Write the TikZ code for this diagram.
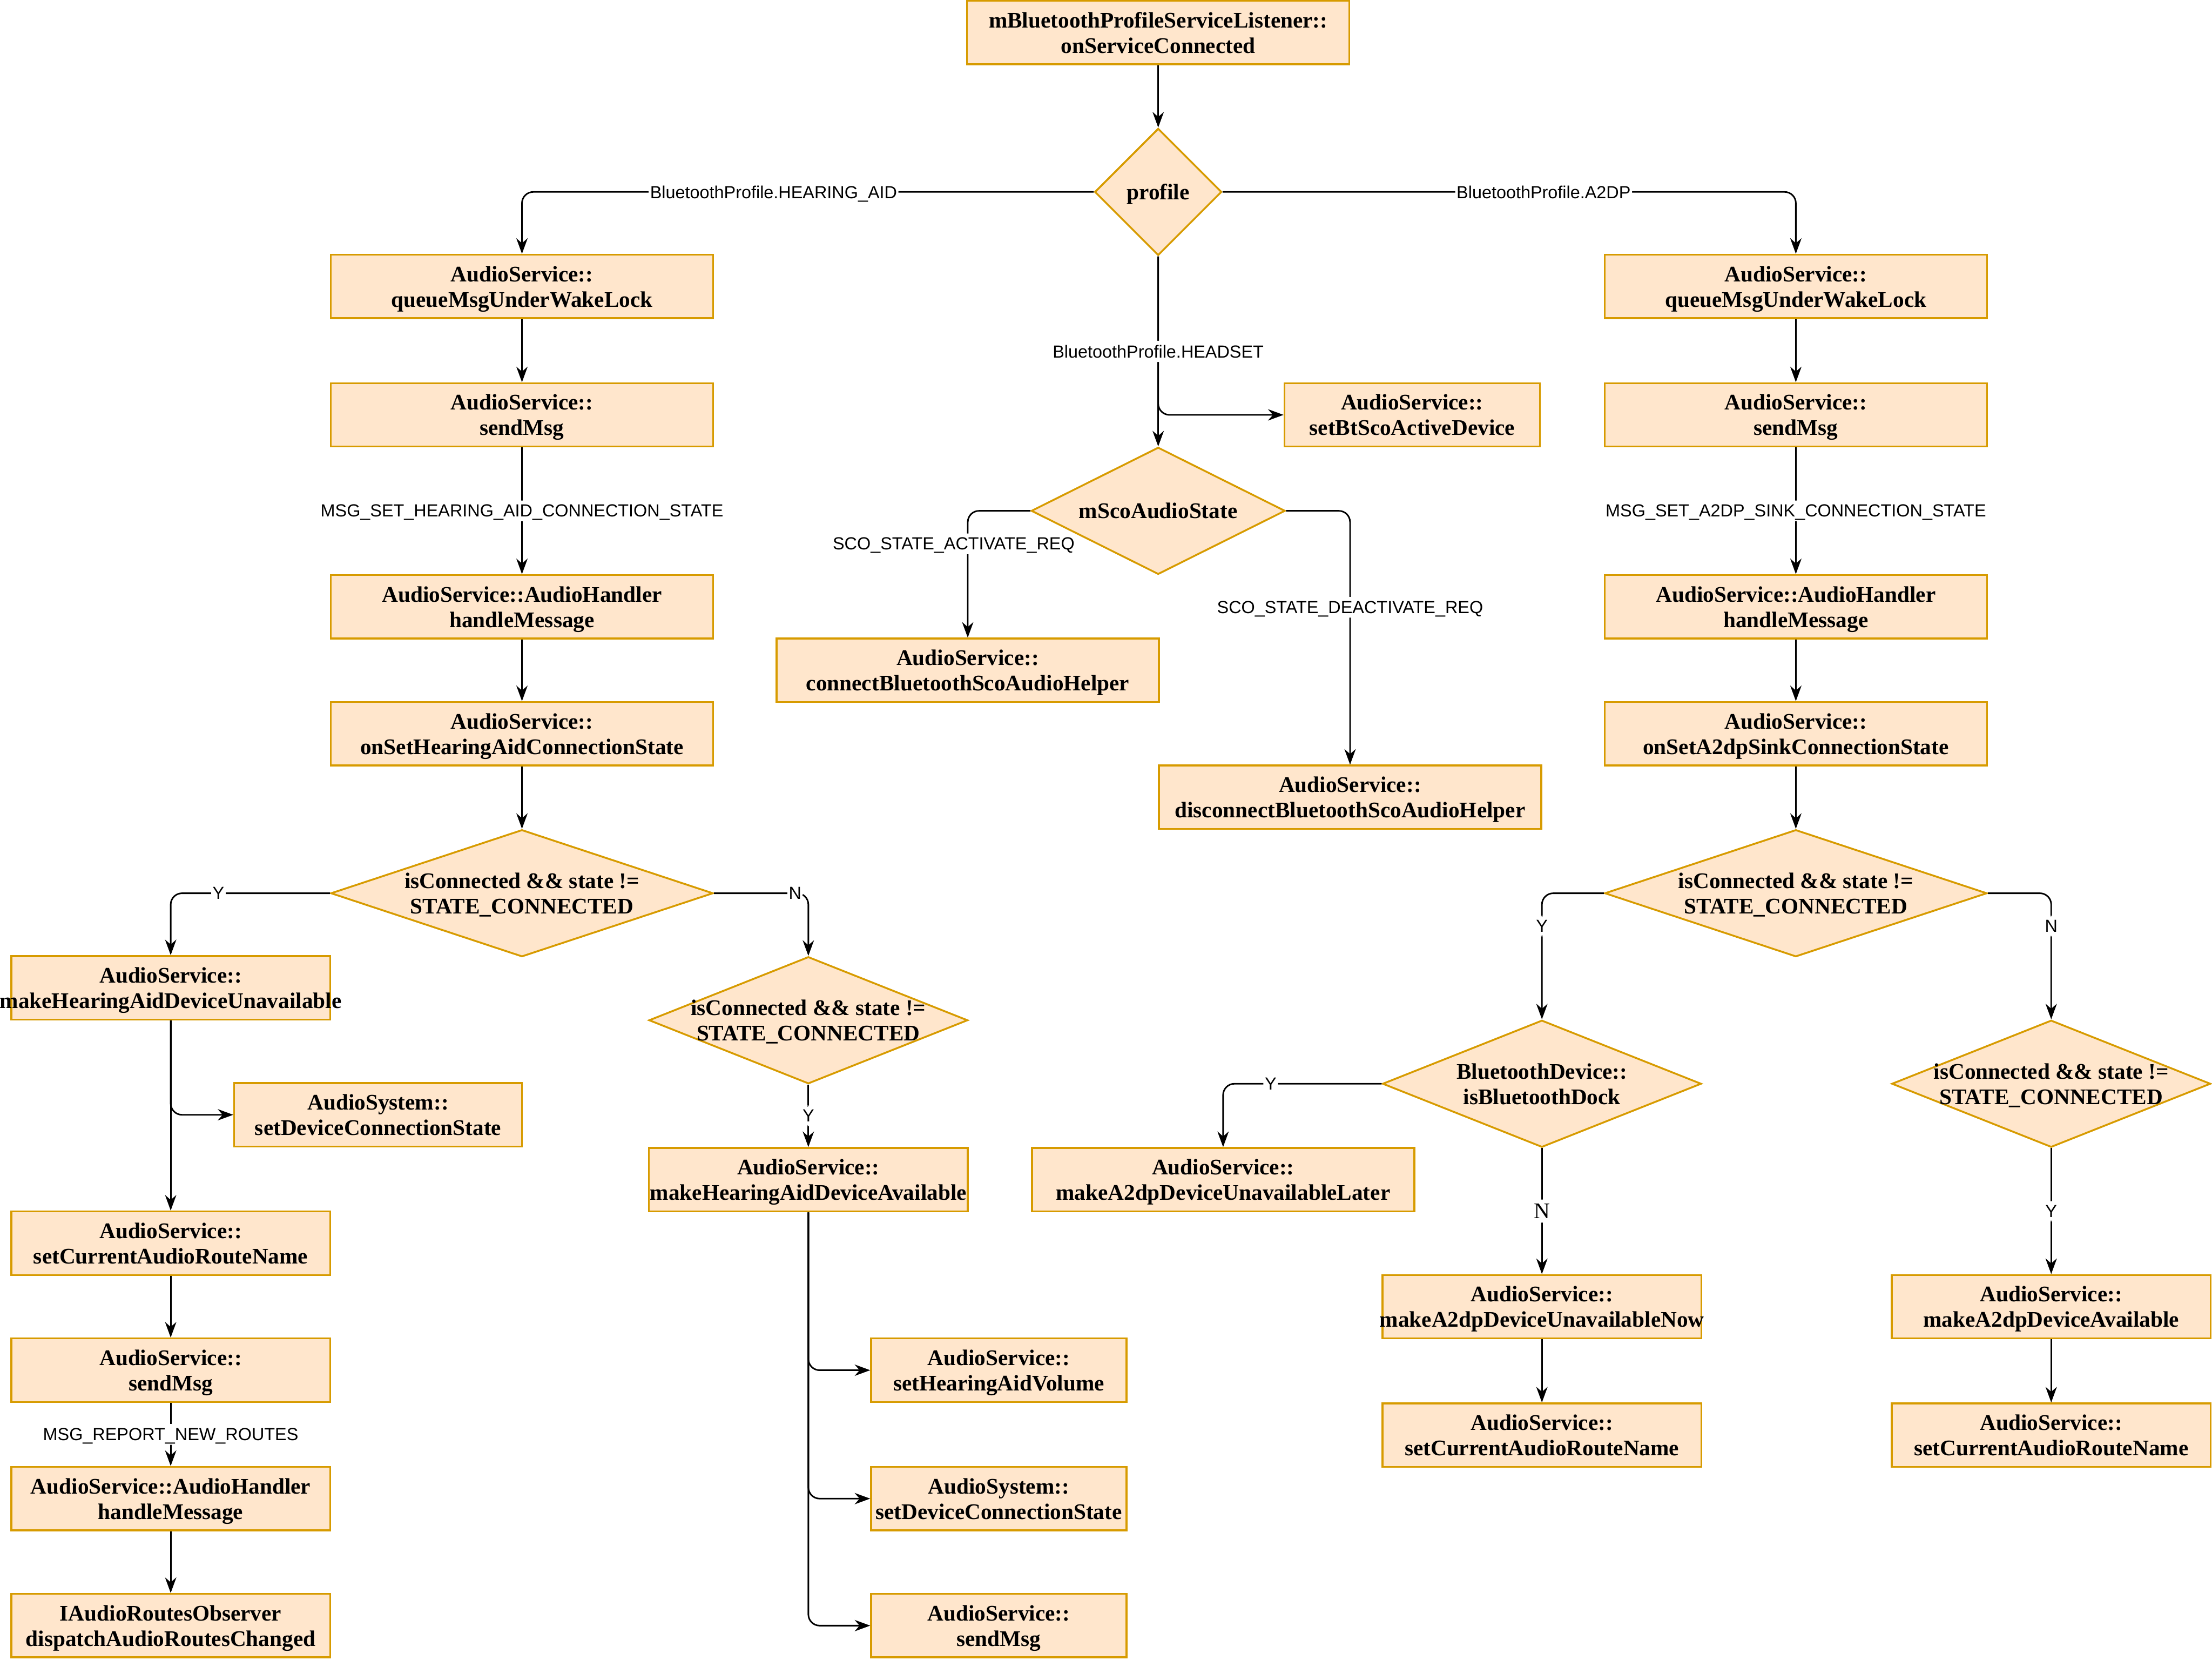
\documentclass[tikz,border=0pt]{standalone}
\usepackage{fontspec}
\setmainfont{Liberation Serif}
\newfontfamily\lblfont{Liberation Sans}
\usepackage{tikz}
\usetikzlibrary{arrows.meta,shapes.geometric}
\definecolor{clrFill}{RGB}{255,230,204}
\definecolor{clrLine}{RGB}{215,155,0}
\tikzset{
  fnbox/.style={rectangle,draw=clrLine,fill=clrFill,line width=1.3pt,
    font=\fontsize{15.8}{18}\selectfont\bfseries,align=center,text depth=0pt,
    inner xsep=-30pt,inner ysep=0pt,minimum width=271pt,minimum height=45pt},
  cond/.style={diamond,aspect=3,draw=clrLine,fill=clrFill,line width=1.3pt,
    font=\fontsize{15.8}{18}\selectfont\bfseries,align=center,text depth=0pt,
    inner xsep=-30pt,inner ysep=0pt,minimum width=271pt,minimum height=90pt},
  arrow/.style={-{Stealth[length=11pt,width=8pt,inset=3.5pt]},line width=1.1pt,
    rounded corners=8pt},
  lbl/.style={font=\lblfont\fontsize{12.4}{14}\selectfont,fill=white,
    text depth=0pt,inner xsep=1pt,inner ysep=3pt}
}
\begin{document}
\begin{tikzpicture}[x=1pt,y=-1pt]
  \useasboundingbox (0,0) rectangle (1568,1176);
  \node[fnbox] (svc) at (821,23) {mBluetoothProfileServiceListener::\\onServiceConnected};
  \node[cond,minimum width=90pt] (prof) at (821,136) {profile};
  % hearing aid
  \node[fnbox] (hqueue) at (370,203) {AudioService::\\queueMsgUnderWakeLock};
  \node[fnbox] (hsend) at (370,294) {AudioService::\\sendMsg};
  \node[fnbox] (hhandle) at (370,430) {AudioService::AudioHandler\\handleMessage};
  \node[fnbox] (hset) at (370,520) {AudioService::\\onSetHearingAidConnectionState};
  \node[cond] (hcond) at (370,633) {isConnected \&\& state !=\\STATE\_CONNECTED};
  \node[fnbox,minimum width=226pt] (hunav) at (121,700) {AudioService::\\makeHearingAidDeviceUnavailable};
  \node[fnbox,minimum width=204pt] (hsysdev) at (268,790) {AudioSystem::\\setDeviceConnectionState};
  \node[fnbox,minimum width=226pt] (hroute) at (121,881) {AudioService::\\setCurrentAudioRouteName};
  \node[fnbox,minimum width=226pt] (hsend2) at (121,971) {AudioService::\\sendMsg};
  \node[fnbox,minimum width=226pt] (hhandle2) at (121,1062) {AudioService::AudioHandler\\handleMessage};
  \node[fnbox,minimum width=226pt] (hobs) at (121,1152) {IAudioRoutesObserver\\dispatchAudioRoutesChanged};
  \node[cond,minimum width=226pt] (hcond2) at (573,723) {isConnected \&\& state !=\\STATE\_CONNECTED};
  \node[fnbox,minimum width=226pt] (havail) at (573,836) {AudioService::\\makeHearingAidDeviceAvailable};
  \node[fnbox,minimum width=181pt] (hvol) at (708,971) {AudioService::\\setHearingAidVolume};
  \node[fnbox,minimum width=181pt] (hsysdev2) at (708,1062) {AudioSystem::\\setDeviceConnectionState};
  \node[fnbox,minimum width=181pt] (hsend3) at (708,1152) {AudioService::\\sendMsg};
  % headset
  \node[fnbox,minimum width=181pt] (scoact) at (1001,294) {AudioService::\\setBtScoActiveDevice};
  \node[cond,minimum width=180pt] (scostate) at (821,362) {mScoAudioState};
  \node[fnbox] (scocon) at (686,475) {AudioService::\\connectBluetoothScoAudioHelper};
  \node[fnbox] (scodis) at (957,565) {AudioService::\\disconnectBluetoothScoAudioHelper};
  % a2dp
  \node[fnbox] (aqueue) at (1273,203) {AudioService::\\queueMsgUnderWakeLock};
  \node[fnbox] (asend) at (1273,294) {AudioService::\\sendMsg};
  \node[fnbox] (ahandle) at (1273,430) {AudioService::AudioHandler\\handleMessage};
  \node[fnbox] (aset) at (1273,520) {AudioService::\\onSetA2dpSinkConnectionState};
  \node[cond] (acond) at (1273,633) {isConnected \&\& state !=\\STATE\_CONNECTED};
  \node[cond,minimum width=226pt] (adock) at (1093,768) {BluetoothDevice::\\isBluetoothDock};
  \node[cond,minimum width=226pt] (acond2) at (1454,768) {isConnected \&\& state !=\\STATE\_CONNECTED};
  \node[fnbox] (alater) at (867,836) {AudioService::\\makeA2dpDeviceUnavailableLater};
  \node[fnbox,minimum width=226pt] (anow) at (1093,926) {AudioService::\\makeA2dpDeviceUnavailableNow};
  \node[fnbox,minimum width=226pt] (aroute) at (1093,1017) {AudioService::\\setCurrentAudioRouteName};
  \node[fnbox,minimum width=226pt] (aavail) at (1454,926) {AudioService::\\makeA2dpDeviceAvailable};
  \node[fnbox,minimum width=226pt] (aroute2) at (1454,1017) {AudioService::\\setCurrentAudioRouteName};

  \draw[arrow] (svc) -- (prof);
  \draw[arrow] (prof.west) -| node[lbl,pos=0.28]{BluetoothProfile.HEARING\_AID} (hqueue.north);
  \draw[arrow] (prof.east) -| node[lbl,pos=0.28]{BluetoothProfile.A2DP} (aqueue.north);
  \draw[arrow] (prof.south) |- (scoact.west);
  \draw[arrow] (prof.south) -- node[lbl]{BluetoothProfile.HEADSET} (scostate.north);
  \draw[arrow] (scostate.west) -| node[lbl,pos=0.63,xshift=-10pt]{SCO\_STATE\_ACTIVATE\_REQ} (scocon.north);
  \draw[arrow] (scostate.east) -| node[lbl,pos=0.69]{SCO\_STATE\_DEACTIVATE\_REQ} (scodis.north);

  \draw[arrow] (hqueue) -- (hsend);
  \draw[arrow] (hsend) -- node[lbl]{MSG\_SET\_HEARING\_AID\_CONNECTION\_STATE} (hhandle);
  \draw[arrow] (hhandle) -- (hset);
  \draw[arrow] (hset) -- (hcond);
  \draw[arrow] (hcond.west) -| node[lbl,pos=0.35]{Y} (hunav.north);
  \draw[arrow] (hcond.east) -| node[lbl,pos=0.43]{N} (hcond2.north);
  \draw[arrow] (hunav.south) |- (hsysdev.west);
  \draw[arrow] (hunav) -- (hroute);
  \draw[arrow] (hroute) -- (hsend2);
  \draw[arrow] (hsend2) -- node[lbl]{MSG\_REPORT\_NEW\_ROUTES} (hhandle2);
  \draw[arrow] (hhandle2) -- (hobs);
  \draw[arrow] (hcond2) -- node[lbl]{Y} (havail);
  \draw[arrow] (havail.south) |- (hvol.west);
  \draw[arrow] (havail.south) |- (hsysdev2.west);
  \draw[arrow] (havail.south) |- (hsend3.west);

  \draw[arrow] (aqueue) -- (asend);
  \draw[arrow] (asend) -- node[lbl]{MSG\_SET\_A2DP\_SINK\_CONNECTION\_STATE} (ahandle);
  \draw[arrow] (ahandle) -- (aset);
  \draw[arrow] (aset) -- (acond);
  \draw[arrow] (acond.west) -| node[lbl,pos=0.63]{Y} (adock.north);
  \draw[arrow] (acond.east) -| node[lbl,pos=0.63]{N} (acond2.north);
  \draw[arrow] (adock.west) -| node[lbl,pos=0.35]{Y} (alater.north);
  \draw[arrow] (adock) -- node[lbl,font=\fontsize{15.8}{18}\selectfont]{N} (anow);
  \draw[arrow] (anow) -- (aroute);
  \draw[arrow] (acond2) -- node[lbl]{Y} (aavail);
  \draw[arrow] (aavail) -- (aroute2);
\end{tikzpicture}
\end{document}
